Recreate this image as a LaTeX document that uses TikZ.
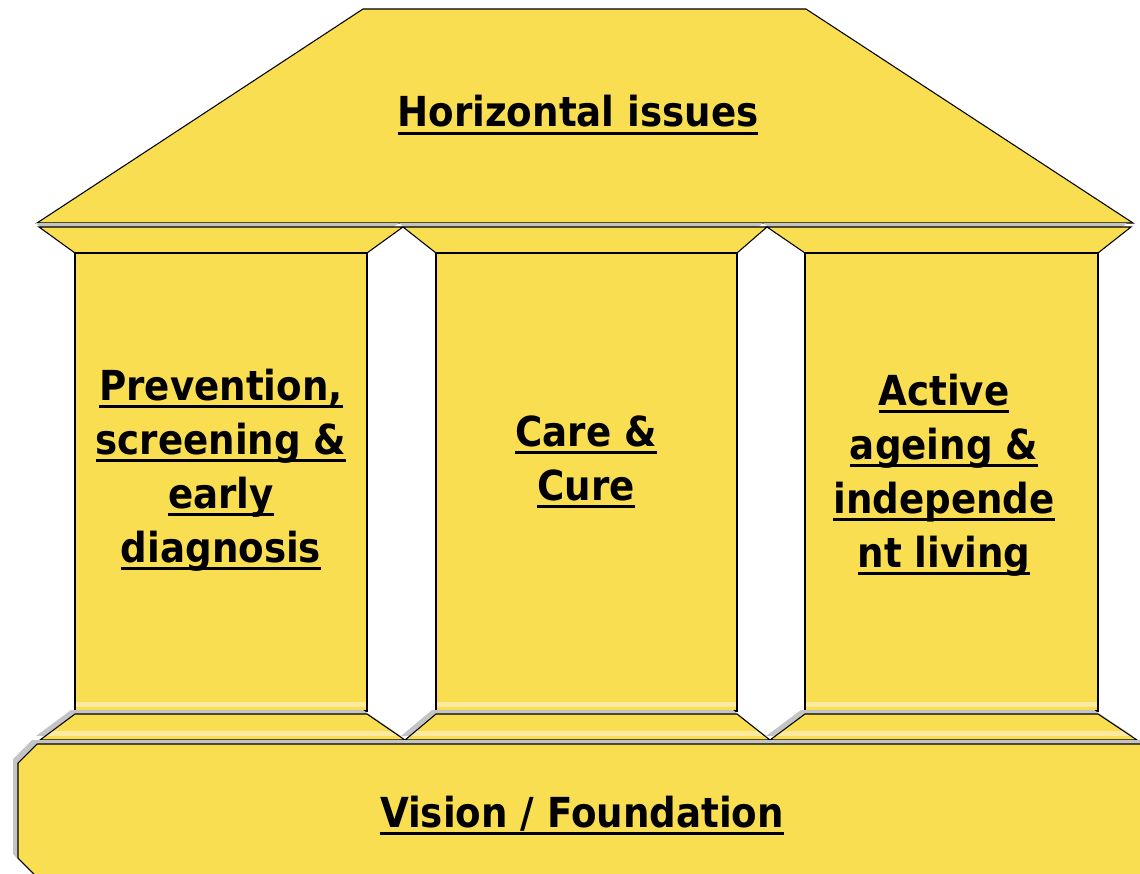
\documentclass[tikz,border=0pt]{standalone}
\usepackage{fontspec}
\setmainfont{DejaVu Sans}
\newfontfamily\templefont{DejaVu Sans Condensed}
\definecolor{templeyellow}{RGB}{249,222,82}
\definecolor{paleyellow}{RGB}{251,234,160}
\definecolor{shadowgrey}{RGB}{196,196,196}
\newcommand{\ulword}[1]{\leavevmode\setbox0=\hbox{#1}\rlap{\rule[-6pt]{\wd0}{2.2pt}}\box0}

\begin{document}
\begin{tikzpicture}[x=0.75pt, y=-0.75pt,
    templepart/.style={fill=templeyellow, draw=black, line width=0.8pt},
    shadowfill/.style={fill=shadowgrey},
    templetext/.style={font=\templefont\bfseries\fontsize{31}{40.5}\selectfont, align=center, inner sep=0pt, anchor=base}]
    \useasboundingbox (0,0) rectangle (1140,874);
    \clip (0,0) rectangle (1140,874);

    \draw[templepart] (363,9) -- (806,9) -- (1133,223) -- (37,223) -- cycle;

    \foreach \capl/\capr/\pill/\pilr in {39/403/75/367, 403/767/436/737, 767/1131/805/1098} {
        \fill[shadowfill] (\capl-4,223) -- (\capr-4,223) -- (\pilr-4,249) -- (\pill-4,249) -- cycle;
        \draw[templepart] (\capl,227) -- (\capr,227) -- (\pilr,253) -- (\pill,253) -- cycle;
        \draw[templepart] (\pill,253) rectangle (\pilr,711);
        \fill[paleyellow] (\pill+1,702) rectangle (\pilr-1,707);
    }

    \foreach \pill/\pilr/\plil/\plir in {75/367/40/405, 436/737/405/770, 805/1098/770/1137} {
        \fill[shadowfill] (\pill-4,710) -- (\pilr-4,710) -- (\plir-4,736) -- (\plil-4,736) -- cycle;
        \fill[templeyellow] (\pill,714) -- (\pilr,714) -- (\plir,740) -- (\plil,740) -- cycle;
        \begin{scope}
            \clip (\pill,714) -- (\pilr,714) -- (\plir,740) -- (\plil,740) -- cycle;
            \fill[paleyellow] (\plil,731) rectangle (\plir,736);
        \end{scope}
        \draw[line width=0.8pt] (\pill,714) -- (\pilr,714) -- (\plir,740) -- (\plil,740) -- cycle;
    }

    \fill[shadowfill] (32,740) -- (1160,740) -- (1160,886) -- (45,886) -- (13,854) -- (13,759) -- cycle;
    \draw[templepart] (37,744) -- (1160,744) -- (1160,890) -- (50,890) -- (18,858) -- (18,763) -- cycle;

    \node[templetext] (roofText) at (578,127) {\ulword{Horizontal issues}};
    \node[templetext] (leftText) at (221,562) {\ulword{Prevention,}\\\ulword{screening \&}\\\ulword{early}\\\ulword{diagnosis}};
    \node[templetext] (midText) at (586,500) {\ulword{Care \&}\\\ulword{Cure}};
    \node[templetext] (rightText) at (944,567) {\ulword{Active}\\\ulword{ageing \&}\\\ulword{independe}\\\ulword{nt living}};
    \node[templetext] (baseText) at (582,827) {\ulword{Vision / Foundation}};
\end{tikzpicture}
\end{document}
